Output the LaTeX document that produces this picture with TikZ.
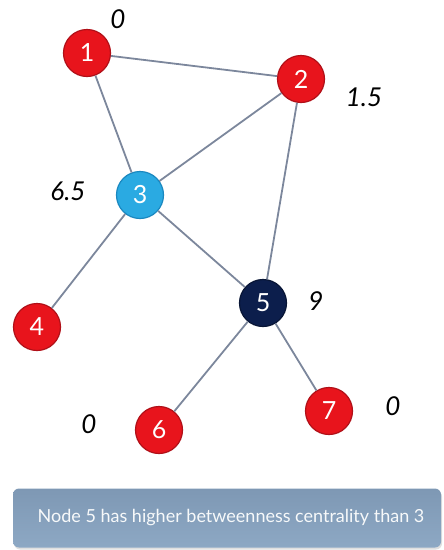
\documentclass[tikz,border=0pt]{standalone}
\usepackage{fontspec}
\setmainfont{Lato}
\usetikzlibrary{shadows}
\definecolor{hotred}{HTML}{E8141C}
\definecolor{hotrim}{HTML}{B01018}
\definecolor{skyblue}{HTML}{2AAAE2}
\definecolor{skyrim}{HTML}{1A88C0}
\definecolor{navy}{HTML}{0C1E4C}
\definecolor{edgegray}{HTML}{7C879C}
\definecolor{boxtop}{HTML}{7E98B4}
\definecolor{boxbot}{HTML}{8DA8C4}
\tikzset{
  vert/.style={circle, minimum size=47pt, inner sep=0pt, line width=1.2pt,
    text=white, font=\fontsize{25}{25}\selectfont},
  redv/.style={vert, fill=hotred, draw=hotrim},
  bluev/.style={vert, fill=skyblue, draw=skyrim},
  navyv/.style={vert, fill=navy, draw=navy!70!black},
  link/.style={draw=edgegray, line width=1.8pt},
  score/.style={font=\itshape\fontsize{26}{26}\selectfont, text=black},
}
\begin{document}
\begin{tikzpicture}[x=1pt, y=-1pt]
\useasboundingbox (0,0) rectangle (444,550);
% vertices
\node[redv]  (n1) at (87,53)   {1};
\node[redv]  (n2) at (301,79)  {2};
\node[bluev] (n3) at (140,195) {3};
\node[redv]  (n4) at (37,327)  {4};
\node[navyv] (n5) at (263,303) {5};
\node[redv]  (n6) at (159,430) {6};
\node[redv]  (n7) at (329,411) {7};
% edges
\draw[link] (n1) -- (n2);
\draw[link] (n1) -- (n3);
\draw[link] (n2) -- (n3);
\draw[link] (n2) -- (n5);
\draw[link] (n3) -- (n4);
\draw[link] (n3) -- (n5);
\draw[link] (n5) -- (n6);
\draw[link] (n5) -- (n7);
% betweenness scores
\node[score] (s1) at (118,19)  {0};
\node[score] (s2) at (364,97)  {1.5};
\node[score] (s3) at (68,191)  {6.5};
\node[score] (s5) at (316,301) {9};
\node[score] (s6) at (89,424)  {0};
\node[score] (s7) at (393,406) {0};
% caption banner
\node[rounded corners=6pt, minimum width=428pt, minimum height=59pt,
      top color=boxtop, bottom color=boxbot, draw=none,
      drop shadow={opacity=0.25, shadow xshift=1pt, shadow yshift=-2pt}]
  (cap) at (227,518) {};
\node[text=white!94!boxtop, font=\fontsize{18}{19}\selectfont]
  (captext) at (231,518) {Node 5 has higher betweenness centrality than 3};
\end{tikzpicture}
\end{document}
